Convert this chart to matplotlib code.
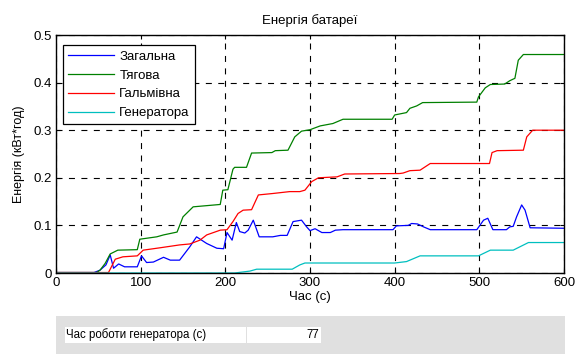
import matplotlib
matplotlib.use("Agg")
import matplotlib.pyplot as plt
from matplotlib.patches import Rectangle

plt.rcParams["font.family"] = ["Liberation Sans", "DejaVu Sans"]

# values (time in s, energy in kWh)
t_total = [0, 45, 52, 59, 64, 68, 74, 81, 96, 101, 107, 115, 127, 135, 146, 158, 166, 172,
           178, 190, 198, 202, 208, 213, 217, 223, 227, 233, 240, 256, 265, 273, 280, 290,
           296, 300, 306, 314, 324, 330, 339, 398, 402, 416, 420, 427, 434, 442, 497, 505,
           510, 516, 532, 536, 540, 544, 550, 554, 560, 600]
e_total = [0.001, 0.001, 0.006, 0.017, 0.038, 0.010, 0.019, 0.013, 0.013, 0.036, 0.022,
           0.023, 0.033, 0.027, 0.027, 0.055, 0.076, 0.069, 0.062, 0.052, 0.051, 0.085,
           0.069, 0.106, 0.087, 0.084, 0.090, 0.111, 0.076, 0.076, 0.079, 0.079, 0.108,
           0.111, 0.097, 0.089, 0.093, 0.085, 0.085, 0.090, 0.091, 0.091, 0.099, 0.100,
           0.104, 0.103, 0.097, 0.091, 0.091, 0.111, 0.115, 0.091, 0.091, 0.097, 0.098,
           0.118, 0.143, 0.132, 0.095, 0.094]

t_traction = [0, 48, 52, 58, 64, 73, 96, 99, 111, 119, 127, 143, 150, 162, 194, 197, 203,
              209, 211, 225, 231, 255, 259, 274, 282, 290, 300, 312, 327, 339, 397, 400,
              414, 418, 426, 433, 497, 499, 507, 513, 530, 536, 542, 546, 552, 600]
e_traction = [0.001, 0.001, 0.006, 0.020, 0.040, 0.048, 0.049, 0.071, 0.074, 0.076, 0.080,
              0.086, 0.118, 0.139, 0.144, 0.174, 0.175, 0.218, 0.222, 0.222, 0.252, 0.253,
              0.257, 0.258, 0.286, 0.298, 0.301, 0.309, 0.314, 0.323, 0.323, 0.332, 0.337,
              0.346, 0.351, 0.358, 0.359, 0.370, 0.389, 0.396, 0.397, 0.404, 0.409, 0.447,
              0.459, 0.459]

t_braking = [0, 62, 66, 70, 79, 96, 103, 123, 146, 158, 170, 178, 194, 202, 209, 215, 221,
             231, 239, 256, 276, 288, 294, 302, 310, 332, 341, 406, 410, 418, 430, 442, 512,
             515, 521, 552, 556, 563, 600]
e_braking = [0.001, 0.001, 0.015, 0.029, 0.034, 0.036, 0.048, 0.053, 0.059, 0.061, 0.069,
             0.080, 0.090, 0.091, 0.108, 0.125, 0.132, 0.133, 0.164, 0.167, 0.171, 0.171,
             0.174, 0.192, 0.200, 0.202, 0.208, 0.209, 0.210, 0.215, 0.216, 0.230, 0.230,
             0.253, 0.257, 0.258, 0.286, 0.300, 0.300]

t_gen = [0, 211, 229, 237, 279, 288, 294, 400, 414, 430, 499, 513, 540, 558, 600]
e_gen = [0.0, 0.0, 0.004, 0.008, 0.008, 0.017, 0.021, 0.021, 0.024, 0.036, 0.036, 0.048,
         0.048, 0.064, 0.064]

labels = ["Загальна", "Тягова", "Гальмівна", "Генератора"]
colors = ["#0000ff", "#008000", "#ff0000", "#00bfbf"]

gen_label = "Час роботи генератора (с)"
gen_time = 77

fig = plt.figure(figsize=(5.78, 3.54), dpi=100)
fig.patch.set_facecolor("white")
ax = fig.add_axes([56 / 578, 81 / 354, 508 / 578, 238 / 354])

series = [(t_total, e_total), (t_traction, e_traction), (t_braking, e_braking), (t_gen, e_gen)]
for (t, e), lab, c in zip(series, labels, colors):
    ax.plot(t, e, color=c, lw=0.9, label=lab)

ax.set_xlim(0, 600)
ax.set_ylim(0, 0.5)
ax.set_xticks([0, 100, 200, 300, 400, 500, 600])
ax.set_yticks([0, 0.1, 0.2, 0.3, 0.4, 0.5])
ax.set_yticklabels(["0", "0.1", "0.2", "0.3", "0.4", "0.5"])
ax.grid(True, color="black", linestyle=(0, (5.4, 5.8)), linewidth=0.8)
ax.tick_params(direction="in", length=3, width=0.8, labelsize=9.5, top=True, right=True,
               pad=3)
for s in ax.spines.values():
    s.set_linewidth(1.0)
ax.set_title("Енергія батареї", fontsize=9.5, pad=8)
ax.set_xlabel("Час (с)", fontsize=9.5, labelpad=1)
ax.set_ylabel("Енергія (кВт*год)", fontsize=9, labelpad=6)

leg = ax.legend(loc="upper left", bbox_to_anchor=(0.0, 0.985), fontsize=9.5,
                fancybox=False, framealpha=1, edgecolor="black", handlelength=3.5,
                handletextpad=0.4, borderpad=0.4, labelspacing=0.5)
leg.get_frame().set_linewidth(0.9)

# generator-time panel under the chart
fig.patches.append(Rectangle((56 / 578, 0), 509 / 578, 38 / 354, transform=fig.transFigure,
                             facecolor="#e0e0e0", edgecolor="none", zorder=0))
fig.patches.append(Rectangle((65 / 578, 11.5 / 354), 181 / 578, 16 / 354,
                             transform=fig.transFigure, facecolor="white", edgecolor="none"))
fig.patches.append(Rectangle((247 / 578, 11.5 / 354), 74 / 578, 16 / 354,
                             transform=fig.transFigure, facecolor="white", edgecolor="none"))
fig.text(66 / 578, 19 / 354, gen_label, fontsize=8.3, va="center", ha="left")
fig.text(319 / 578, 19 / 354, str(gen_time), fontsize=8.3, va="center", ha="right")

fig.savefig("out.png", dpi=100)
